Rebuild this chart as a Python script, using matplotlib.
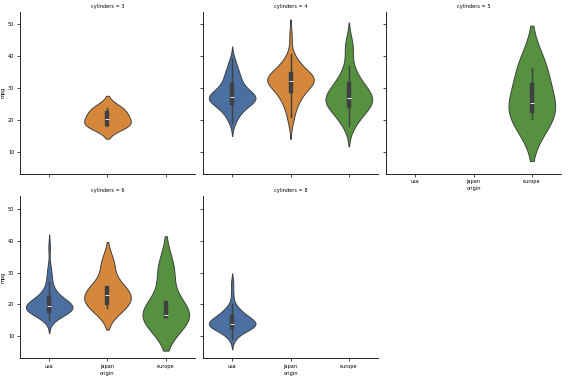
import matplotlib
matplotlib.use("Agg")
import matplotlib.pyplot as plt
import pandas as pd
import seaborn as sns

# origin order and fill colours
origins = ["usa", "japan", "europe"]
colors = ["#4a6fa0", "#d5873b", "#56913f"]

# mpg values per (cylinders, origin)
mpg_3_japan = [18.0, 19.0, 21.5, 23.7]

mpg_4_usa = [19.0, 20.0, 21.0, 22.0, 22.0, 23.0, 23.0, 24.0, 24.0, 24.0, 25.0, 25.0,
             25.0, 25.0, 26.0, 26.0, 26.0, 26.0, 26.0, 26.5, 26.6, 27.0, 27.0, 27.0,
             27.0, 27.0, 27.2, 27.4, 27.5, 27.9, 28.0, 28.0, 28.0, 28.0, 28.4, 29.0,
             29.0, 30.0, 30.0, 30.5, 31.0, 31.0, 31.5, 32.0, 32.0, 33.5, 34.0, 34.0,
             34.5, 35.0, 36.0, 37.0, 38.0, 39.0]
mpg_4_japan = [19.0, 21.0, 23.0, 24.0, 25.0, 26.0, 27.0, 27.0, 28.0, 28.0, 29.0, 29.0,
               30.0, 30.0, 31.0, 31.0, 31.5, 31.8, 32.0, 32.0, 32.0, 32.2, 32.4, 32.7,
               32.8, 33.0, 33.0, 33.5, 33.8, 34.0, 34.1, 34.5, 35.0, 35.0, 36.0, 36.0,
               37.0, 37.7, 38.0, 39.1, 40.8, 46.6]
mpg_4_europe = [18.0, 19.0, 20.0, 21.0, 22.0, 23.0, 23.0, 24.0, 24.0, 25.0, 25.0, 25.0,
                26.0, 26.0, 26.0, 26.0, 27.0, 27.0, 27.0, 28.0, 28.0, 29.0, 29.0, 30.0,
                30.0, 31.0, 31.5, 32.0, 33.0, 34.0, 36.0, 37.0, 41.5, 43.4, 44.3]

mpg_5_europe = [20.3, 25.4, 36.4]

mpg_6_usa = [15.0, 16.0, 16.0, 16.5, 17.0, 17.0, 17.5, 17.6, 18.0, 18.0, 18.0, 18.0,
             18.0, 18.1, 18.2, 18.5, 18.6, 19.0, 19.0, 19.0, 19.0, 19.0, 19.1, 19.2,
             19.4, 19.8, 20.0, 20.0, 20.0, 20.2, 20.5, 20.6, 21.0, 21.0, 21.0, 21.5,
             22.0, 22.0, 22.0, 22.4, 23.0, 23.8, 24.0, 25.0, 26.0, 27.0, 28.8, 30.0,
             32.0, 38.0]
mpg_6_japan = [19.0, 20.0, 22.0, 24.2, 25.4, 32.7]
mpg_6_europe = [16.2, 16.5, 17.0, 30.7]

mpg_8_usa = [9.0, 10.0, 11.0, 11.0, 12.0, 12.0, 12.0, 12.0, 13.0, 13.0, 13.0, 13.0,
             13.0, 13.0, 13.0, 14.0, 14.0, 14.0, 14.0, 14.0, 14.0, 14.0, 14.0, 15.0,
             15.0, 15.0, 15.0, 15.5, 15.5, 16.0, 16.0, 16.0, 16.5, 17.0, 17.0, 17.5,
             18.0, 18.5, 19.0, 20.0, 23.0, 26.6]

groups = [
    (3, "japan", mpg_3_japan),
    (4, "usa", mpg_4_usa),
    (4, "japan", mpg_4_japan),
    (4, "europe", mpg_4_europe),
    (5, "europe", mpg_5_europe),
    (6, "usa", mpg_6_usa),
    (6, "japan", mpg_6_japan),
    (6, "europe", mpg_6_europe),
    (8, "usa", mpg_8_usa),
]
rows = []
for cyl, org, vals in groups:
    for v in vals:
        rows.append({"cylinders": cyl, "origin": org, "mpg": v})
df = pd.DataFrame(rows)

plt.rcParams["font.size"] = 3.6
plt.rcParams["axes.linewidth"] = 0.6
plt.rcParams["xtick.major.size"] = 2
plt.rcParams["ytick.major.size"] = 2
plt.rcParams["xtick.major.width"] = 0.5
plt.rcParams["ytick.major.width"] = 0.5
plt.rcParams["xtick.major.pad"] = 2
plt.rcParams["ytick.major.pad"] = 2
plt.rcParams["axes.labelpad"] = 1.5
plt.rcParams["axes.titlepad"] = 3

g = sns.catplot(data=df, x="origin", y="mpg", hue="origin", col="cylinders",
                col_wrap=3, kind="violin", order=origins, hue_order=origins,
                palette=colors, saturation=1, linewidth=0.7, linecolor=".25",
                height=2, aspect=1, legend=False)

fig = g.figure
fig.set_size_inches(5.69, 3.84)
fig.subplots_adjust(left=20 / 569, right=561 / 569, top=1 - 12 / 384,
                    bottom=1 - 358 / 384, wspace=0.046, hspace=0.142)

fig.savefig("out.png", dpi=100)
